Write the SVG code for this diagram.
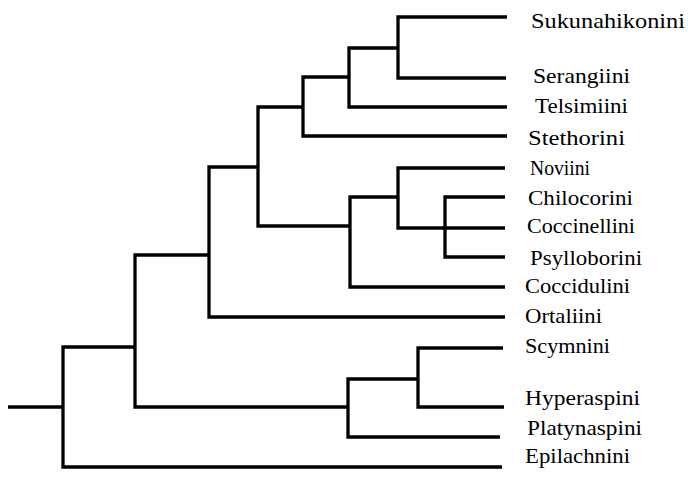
<svg xmlns="http://www.w3.org/2000/svg" width="688" height="479" viewBox="0 0 688 479">
<style>
.br{fill:none;stroke:#000;stroke-width:3.3;stroke-linejoin:miter;stroke-linecap:butt}
.lb{font-family:"Liberation Serif","Times New Roman",serif;font-size:22px;fill:#000}
</style>
<rect width="688" height="479" fill="#fff"/>
<g id="connectors">
<path class="br" d="M8,407 H63"/>
<path class="br" d="M135,347 H63 V467 H502"/>
<path class="br" d="M209,255 H135 V407 H348"/>
<path class="br" d="M258,167 H209 V317 H505"/>
<path class="br" d="M303,107 H258 V226 H350"/>
<path class="br" d="M349,77 H303 V136 H507"/>
<path class="br" d="M398,48 H349 V107 H507"/>
<path class="br" d="M507,17 H398 V78 H506"/>
<path class="br" d="M398,197 H350 V287 H505"/>
<path class="br" d="M505,168 H398 V228 H505"/>
<path class="br" d="M505,197 H445 V257 H505"/>
<path class="br" d="M418,379 H348 V437 H500"/>
<path class="br" d="M503,348 H418 V407 H504"/>
</g>
<g id="sukunahikonini"><text class="lb" x="531" y="28" textLength="154" lengthAdjust="spacingAndGlyphs">Sukunahikonini</text></g>
<g id="serangiini"><text class="lb" x="533" y="83" textLength="97" lengthAdjust="spacingAndGlyphs">Serangiini</text></g>
<g id="telsimiini"><text class="lb" x="535" y="113" textLength="93" lengthAdjust="spacingAndGlyphs">Telsimiini</text></g>
<g id="stethorini"><text class="lb" x="528" y="145" textLength="97" lengthAdjust="spacingAndGlyphs">Stethorini</text></g>
<g id="noviini"><text class="lb" x="530" y="175" textLength="60" lengthAdjust="spacingAndGlyphs">Noviini</text></g>
<g id="chilocorini"><text class="lb" x="528" y="205" textLength="105" lengthAdjust="spacingAndGlyphs">Chilocorini</text></g>
<g id="coccinellini"><text class="lb" x="527" y="233" textLength="108" lengthAdjust="spacingAndGlyphs">Coccinellini</text></g>
<g id="psylloborini"><text class="lb" x="530" y="265" textLength="112" lengthAdjust="spacingAndGlyphs">Psylloborini</text></g>
<g id="coccidulini"><text class="lb" x="525" y="293" textLength="105" lengthAdjust="spacingAndGlyphs">Coccidulini</text></g>
<g id="ortaliini"><text class="lb" x="525" y="323" textLength="77" lengthAdjust="spacingAndGlyphs">Ortaliini</text></g>
<g id="scymnini"><text class="lb" x="525" y="353" textLength="85" lengthAdjust="spacingAndGlyphs">Scymnini</text></g>
<g id="hyperaspini"><text class="lb" x="525" y="405" textLength="115" lengthAdjust="spacingAndGlyphs">Hyperaspini</text></g>
<g id="platynaspini"><text class="lb" x="527" y="435" textLength="115" lengthAdjust="spacingAndGlyphs">Platynaspini</text></g>
<g id="epilachnini"><text class="lb" x="525" y="463" textLength="105" lengthAdjust="spacingAndGlyphs">Epilachnini</text></g>
</svg>
